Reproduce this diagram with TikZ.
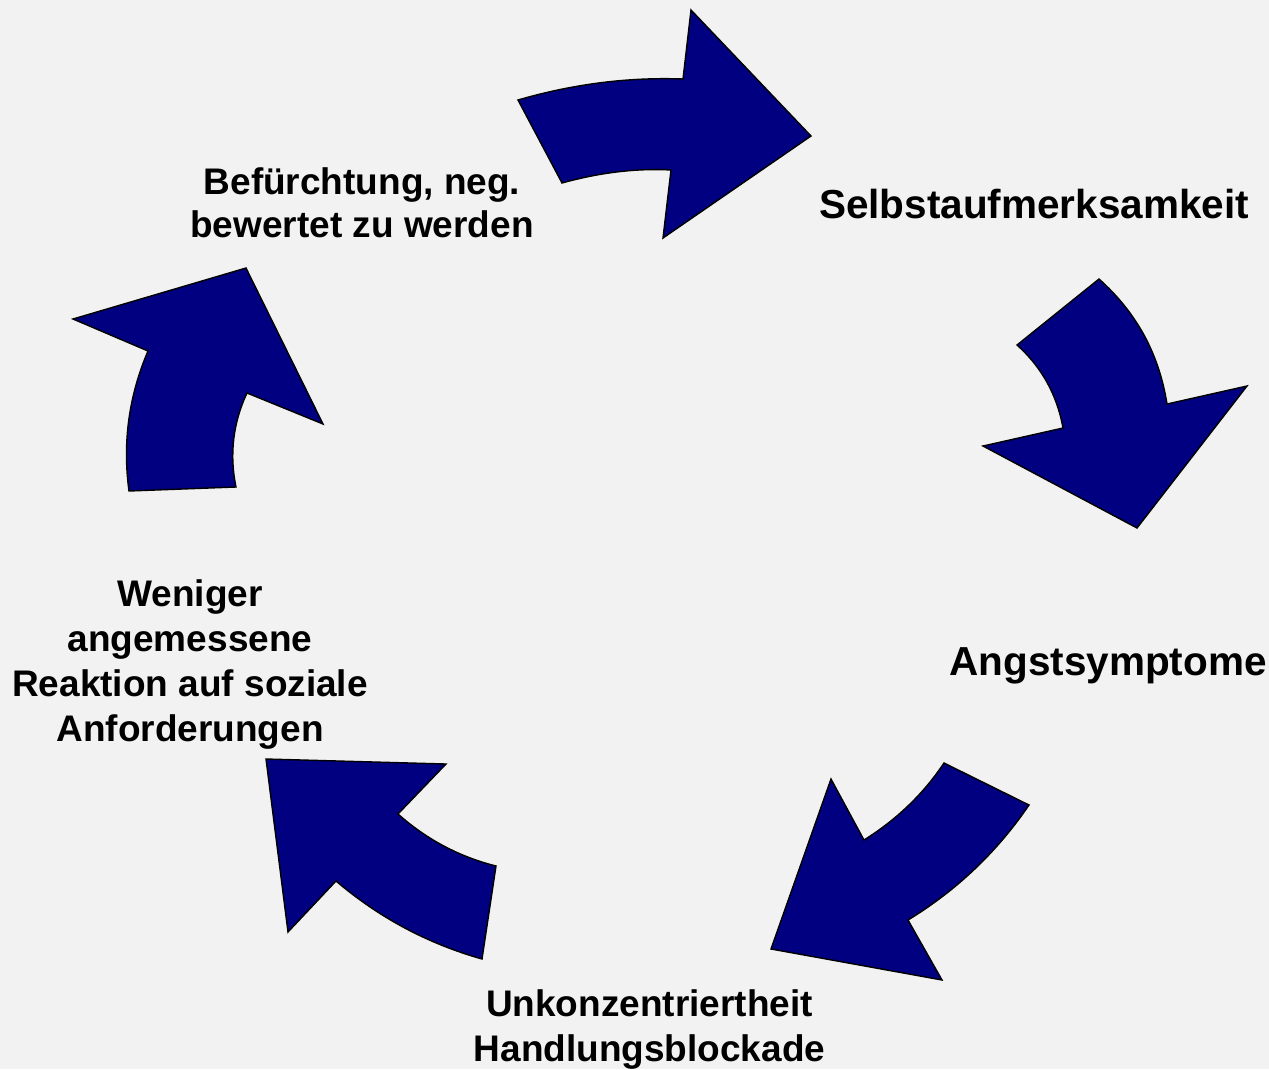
\documentclass[tikz,border=0pt]{standalone}
\usepackage{fontspec}
\setmainfont{Liberation Sans}
\definecolor{bgc}{HTML}{F2F2F2}
\definecolor{arrowc}{HTML}{000080}
\begin{document}
\begin{tikzpicture}[x=1pt,y=-1pt,
  bigarrow/.style={fill=arrowc,draw=black,line width=1.4pt,line join=miter},
  lbl/.style={inner sep=0pt,align=center,font=\bfseries\fontsize{37}{43}\selectfont},
  lblwide/.style={inner sep=0pt,align=center,font=\bfseries\fontsize{37}{45}\selectfont},
  lblbig/.style={inner sep=0pt,font=\bfseries\fontsize{40.5}{48}\selectfont}]
\fill[bgc] (0,0) rectangle (1269,1069);
\useasboundingbox (0,0) rectangle (1269,1069);
% arrow 1 (top)
\draw[bigarrow] (518,100) -- (562,183)
  .. controls (598,173) and (635,168) .. (671,170)
  -- (663,238) -- (811,136) -- (691,10) -- (683,79)
  .. controls (628,77) and (573,84) .. (518,100) -- cycle;
% arrow 2 (right)
\draw[bigarrow] (1099,279) -- (1017,345)
  .. controls (1042,367.5) and (1057,395) .. (1063,428)
  -- (983,446) -- (1137,528) -- (1247,386) -- (1167,404)
  .. controls (1159,354) and (1137,313) .. (1099,279) -- cycle;
% arrow 3 (lower right)
\draw[bigarrow] (944,763) -- (1029,805)
  .. controls (997,852) and (956.6,890.4) .. (908,920)
  -- (942,980) -- (771,949) -- (831,779) -- (864,840)
  .. controls (896,820) and (923,794.5) .. (944,763) -- cycle;
% arrow 4 (bottom left)
\draw[bigarrow] (266,759) -- (446,764) -- (398,814)
  .. controls (426.5,839.3) and (459,856.7) .. (496,866)
  -- (482,959)
  .. controls (427.6,943.6) and (379,917.6) .. (336,881)
  -- (288,932) -- cycle;
% arrow 5 (left)
\draw[bigarrow] (73,319) -- (246,268) -- (323,424) -- (247,393)
  .. controls (233,423) and (229.3,454.5) .. (236,487)
  -- (129,491)
  .. controls (122.4,442.6) and (128.8,396) .. (148,351) -- cycle;
% labels
\node[lbl] (bef) at (362,203) {Befürchtung, neg.\\bewertet zu werden};
\node[lblbig,anchor=base] (selbst) at (1034,218) {Selbstaufmerksamkeit};
\node[lblbig,anchor=base] (angst) at (1108,675) {Angstsymptome};
\node[lblwide] (unk) at (649.5,1029) {Unkonzentriertheit\\Handlungsblockade};
\node[lblwide] (wen) at (190,665) {Weniger\\angemessene\\Reaktion auf soziale\\Anforderungen};
\end{tikzpicture}
\end{document}
